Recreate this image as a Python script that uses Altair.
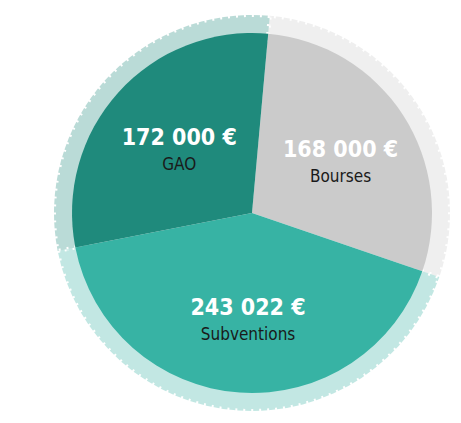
import altair as alt
import pandas as pd

categories = ["Bourses", "Subventions", "GAO"]
values = [168000, 243022, 172000]
value_labels = ["168 000 €", "243 022 €", "172 000 €"]
colors = ["#cbcbcb", "#37b3a4", "#1f8a7c"]
order = [0, 1, 2]

df = pd.DataFrame({"cat": categories, "val": values, "lbl": value_labels, "ord": order})

theta_scale = alt.Scale(range=[0.09, 0.09 + 6.2832])
color_scale = alt.Scale(domain=categories, range=colors)
FONT = "DejaVu Sans Condensed, Roboto, Liberation Sans, sans-serif"

base = alt.Chart(df).encode(
    theta=alt.Theta("val:Q", stack=True, scale=theta_scale),
    order=alt.Order("ord:Q"),
)

ring = base.mark_arc(radius=198, radius2=166, opacity=0.3, strokeDash=[2, 6],
                     stroke="white", strokeWidth=4).encode(
    color=alt.Color("cat:N", scale=color_scale, legend=None)
)
pie = base.mark_arc(radius=180).encode(
    color=alt.Color("cat:N", scale=color_scale, legend=None)
)
val_text = base.mark_text(radius=102, dy=-7, dx=3, font=FONT,
                          fontWeight="bold", fontSize=23, color="white").encode(
    text="lbl:N"
)
cat_text = base.mark_text(radius=102, dy=20, dx=3, font=FONT,
                          fontSize=17, color="#1a1a1a").encode(
    text="cat:N"
)

chart = alt.layer(ring, pie, val_text, cat_text).properties(
    width=400, height=400,
    padding={"left": 44, "top": 5, "right": 0, "bottom": 0},
    autosize=alt.AutoSizeParams(type="none"),
).configure_view(stroke=None)

chart.save("out.html", embed_options={"renderer": "svg", "actions": False})
